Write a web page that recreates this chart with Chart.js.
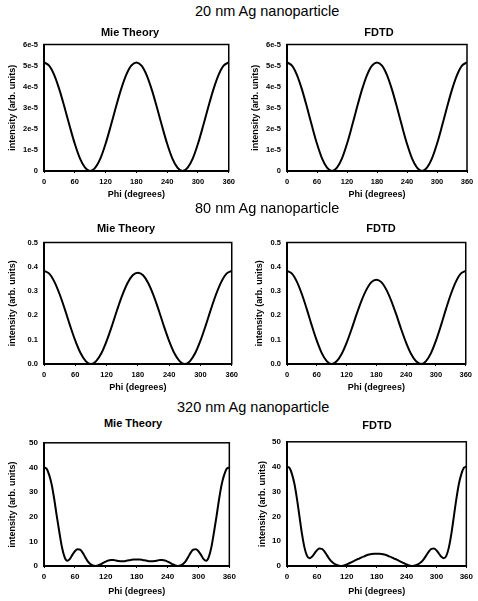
<!DOCTYPE html>
<html><head><meta charset="utf-8">
<script src="https://cdn.jsdelivr.net/npm/chart.js@4/dist/chart.umd.min.js"></script>
<style>
html,body{margin:0;padding:0;background:#fff;width:478px;height:601px;overflow:hidden;}
body{position:relative;font-family:"Liberation Sans",Arial,sans-serif;color:#000;}
canvas{position:absolute;}
.sec{position:absolute;font-size:14.5px;line-height:17px;white-space:nowrap;z-index:2;}
.sub{position:absolute;font-size:11px;font-weight:bold;line-height:13px;white-space:nowrap;transform:translateX(-50%);z-index:2;}
</style></head><body>
<div class="sec" style="left:195px;top:2.5px">20 nm Ag nanoparticle</div>
<div class="sec" style="left:195px;top:199.5px">80 nm Ag nanoparticle</div>
<div class="sec" style="left:177px;top:398.5px">320 nm Ag nanoparticle</div>
<div class="sub" style="left:130px;top:25.5px">Mie Theory</div>
<div class="sub" style="left:379px;top:25.5px">FDTD</div>
<div class="sub" style="left:126px;top:221.5px">Mie Theory</div>
<div class="sub" style="left:381px;top:221.5px">FDTD</div>
<div class="sub" style="left:133px;top:416.5px">Mie Theory</div>
<div class="sub" style="left:377px;top:418.5px">FDTD</div>
<canvas id="c1"></canvas><canvas id="c2"></canvas>
<canvas id="c3"></canvas><canvas id="c4"></canvas>
<canvas id="c5"></canvas><canvas id="c6"></canvas>
<script>
// ---------- data ----------
const phi10 = [0,10,20,30,40,50,60,70,80,90,100,110,120,130,140,150,160,170,180,190,200,210,220,230,240,250,260,270,280,290,300,310,320,330,340,350,360];
const phi5 = [0,5,10,15,20,25,30,35,40,45,50,55,60,65,70,75,80,85,90,95,100,105,110,115,120,125,130,135,140,145,150,155,160,165,170,175,180,185,190,195,200,205,210,215,220,225,230,235,240,245,250,255,260,265,270,275,280,285,290,295,300,305,310,315,320,325,330,335,340,345,350,355,360];

const mie20 = [5.15e-5,5.00e-5,4.55e-5,3.86e-5,3.02e-5,2.13e-5,1.29e-5,0.60e-5,0.16e-5,0,0.16e-5,0.60e-5,1.29e-5,2.13e-5,3.02e-5,3.86e-5,4.55e-5,5.00e-5,5.15e-5,5.00e-5,4.55e-5,3.86e-5,3.02e-5,2.13e-5,1.29e-5,0.60e-5,0.16e-5,0,0.16e-5,0.60e-5,1.29e-5,2.13e-5,3.02e-5,3.86e-5,4.55e-5,5.00e-5,5.15e-5];
const fdtd20 = [5.15e-5,5.00e-5,4.55e-5,3.86e-5,3.02e-5,2.13e-5,1.29e-5,0.60e-5,0.16e-5,0,0.16e-5,0.60e-5,1.29e-5,2.13e-5,3.02e-5,3.86e-5,4.55e-5,5.00e-5,5.15e-5,5.00e-5,4.55e-5,3.86e-5,3.02e-5,2.13e-5,1.29e-5,0.60e-5,0.16e-5,0,0.16e-5,0.60e-5,1.29e-5,2.13e-5,3.02e-5,3.86e-5,4.55e-5,5.00e-5,5.15e-5];

const mie80 = [0.383,0.372,0.338,0.287,0.225,0.158,0.096,0.045,0.012,0,0.012,0.044,0.094,0.155,0.221,0.282,0.332,0.365,0.376,0.365,0.332,0.282,0.221,0.155,0.094,0.044,0.012,0,0.012,0.045,0.096,0.158,0.225,0.287,0.338,0.372,0.383];
const fdtd80 = [0.383,0.372,0.338,0.287,0.225,0.158,0.096,0.045,0.012,0,0.011,0.041,0.087,0.143,0.204,0.260,0.306,0.337,0.347,0.337,0.306,0.260,0.204,0.143,0.087,0.041,0.011,0,0.012,0.045,0.096,0.158,0.225,0.287,0.338,0.372,0.383];

const mie320 = [40,39.5,37,33,27,20,13.5,7.5,3.6,2.1,2.8,4.5,6.0,6.8,6.6,5.4,3.6,1.9,0.8,0.2,0.0,0.2,0.7,1.3,1.8,2.2,2.4,2.4,2.2,2.0,1.9,1.9,2.1,2.3,2.5,2.6,2.6,2.6,2.5,2.3,2.1,1.9,1.9,2.0,2.2,2.4,2.4,2.2,1.8,1.3,0.7,0.2,0.0,0.2,0.8,1.9,3.6,5.4,6.6,6.8,6.0,4.5,2.8,2.1,3.6,7.5,13.5,20,27,33,37,39.5,40];
const fdtd320 = [40,39.5,37,33,27,20,13,7.5,4.2,3.1,3.7,5.0,6.3,7.0,6.9,5.9,4.4,2.9,1.7,0.9,0.4,0.1,0.0,0.2,0.6,1.1,1.6,2.1,2.6,3.0,3.5,3.9,4.3,4.6,4.8,4.9,4.9,4.9,4.8,4.6,4.3,3.9,3.5,3.0,2.6,2.1,1.6,1.1,0.6,0.2,0.0,0.1,0.4,0.9,1.7,2.9,4.4,5.9,6.9,7.0,6.3,5.0,3.7,3.1,4.2,7.5,13,20,27,33,37,39.5,40];

const xTickVals = [0,60,120,180,240,300,360];
const xTickLabels = ['0','60','120','180','240','300','360'];
const yTickVals20 = [0,1e-5,2e-5,3e-5,4e-5,5e-5,6e-5];
const yTickLabels20 = ['0','1e-5','2e-5','3e-5','4e-5','5e-5','6e-5'];
const yTickVals80 = [0,0.1,0.2,0.3,0.4,0.5];
const yTickLabels80 = ['0.0','0.1','0.2','0.3','0.4','0.5'];
const yTickVals320 = [0,10,20,30,40,50];
const yTickLabels320 = ['0','10','20','30','40','50'];

const xTitle = 'Phi (degrees)';
const yTitle = 'intensity (arb. units)';

// ---------- layout ----------
const FONT = '"Liberation Sans", Arial, sans-serif';
const boxPlugin = {
  id: 'box',
  afterDatasetsDraw(chart) {
    const a = chart.chartArea, c = chart.ctx;
    c.save(); c.strokeStyle = '#000'; c.lineWidth = 1.5;
    c.strokeRect(a.left, a.top, a.right - a.left, a.bottom - a.top);
    c.restore();
  }
};

function makeChart(id, g, phi, vals, yv, yl, tickFont) {
  const cv = document.getElementById(id);
  cv.width = g.w; cv.height = g.h;
  cv.style.left = g.x + 'px'; cv.style.top = g.y + 'px';
  cv.style.width = g.w + 'px'; cv.style.height = g.h + 'px';
  new Chart(cv, {
    type: 'line',
    data: { datasets: [{
      data: phi.map((p, i) => ({ x: p, y: vals[i] })),
      borderColor: '#000', borderWidth: 2, pointRadius: 0,
      cubicInterpolationMode: 'monotone', fill: false
    }]},
    options: {
      responsive: false, animation: false, devicePixelRatio: 1,
      layout: { padding: { top: 10, right: g.pr, left: 0, bottom: 0 } },
      plugins: { legend: { display: false }, tooltip: { enabled: false } },
      scales: {
        x: {
          type: 'linear', min: 0, max: 360,
          afterBuildTicks: s => { s.ticks = xTickVals.map(v => ({ value: v })); },
          afterFit: s => { s.height = g.xh; },
          ticks: { color: '#000', padding: 4, maxRotation: 0, autoSkip: false,
                   font: { family: FONT, size: tickFont, weight: 'bold' },
                   callback: (v, i) => xTickLabels[i] },
          grid: { display: true, drawOnChartArea: false, drawTicks: true, tickLength: 2, color: '#000', lineWidth: 1 },
          border: { display: true, color: '#000', width: 2 },
          title: { display: true, text: xTitle, color: '#000', padding: { top: 0, bottom: 0 },
                   font: { family: FONT, size: 9, weight: 'bold' } }
        },
        y: {
          type: 'linear', min: yv[0], max: yv[yv.length - 1],
          afterBuildTicks: s => { s.ticks = yv.map(v => ({ value: v })); },
          afterFit: s => { s.width = g.yw; },
          ticks: { color: '#000', padding: 6, autoSkip: false,
                   font: { family: FONT, size: tickFont, weight: 'bold' },
                   callback: (v, i) => yl[i] },
          grid: { display: false, drawTicks: false },
          border: { display: true, color: '#000', width: 2 },
          title: { display: true, text: yTitle, color: '#000', padding: { top: g.yt, bottom: 0 },
                   font: { family: FONT, size: 9, weight: 'bold' } }
        }
      }
    },
    plugins: [boxPlugin]
  });
}

makeChart('c1', { x: 0,   y: 34,  w: 239, h: 166, pr: 10, yw: 44, xh: 29, yt: 7.3 },  phi10, mie20,  yTickVals20, yTickLabels20, 7.5);
makeChart('c2', { x: 238, y: 34,  w: 240, h: 166, pr: 11, yw: 49, xh: 29, yt: 11.9 }, phi10, fdtd20, yTickVals20, yTickLabels20, 7.5);
makeChart('c3', { x: 0,   y: 232, w: 242, h: 161, pr: 10, yw: 44, xh: 29, yt: 7.3 },  phi10, mie80,  yTickVals80, yTickLabels80, 7.5);
makeChart('c4', { x: 238, y: 232, w: 238, h: 161, pr: 10, yw: 49, xh: 29, yt: 16.3 }, phi10, fdtd80, yTickVals80, yTickLabels80, 7.5);
makeChart('c5', { x: 0,   y: 432, w: 240, h: 165, pr: 10, yw: 44, xh: 31, yt: 7.3 },  phi5,  mie320, yTickVals320, yTickLabels320, 8);
makeChart('c6', { x: 238, y: 431, w: 239, h: 166, pr: 10, yw: 49, xh: 31, yt: 19.6 }, phi5,  fdtd320, yTickVals320, yTickLabels320, 8);
</script>
</body></html>
